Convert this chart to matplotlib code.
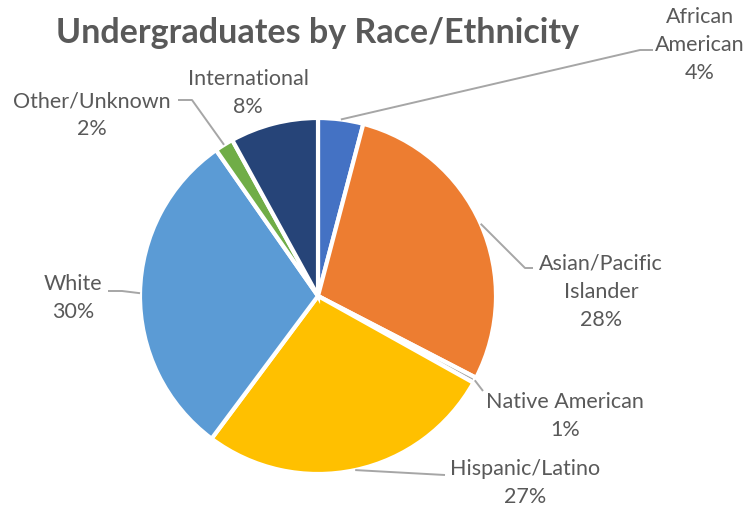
import numpy as np
import matplotlib.pyplot as plt

groups = ['African\nAmerican', 'Asian/Pacific\nIslander', 'Native American',
          'Hispanic/Latino', 'White', 'Other/Unknown', 'International']
shares = [4.1, 28.5, 0.5, 27.1, 30.1, 1.7, 8.0]
pct_labels = ['4%', '28%', '1%', '27%', '30%', '2%', '8%']
colors = ['#4472C4', '#ED7D31', '#A5A5A5', '#FFC000', '#5B9BD5', '#70AD47', '#264478']

# layout in pixel coords (y up), figure is 750x511
cx, cy, r = 318, 215, 178
label_pos = [(700, 466), (601, 219), (565, 95), (525, 28), (73, 213), (92, 396), (248, 418)]
leader_pts = [[(640, 461), (653, 461)], [(525, 243), (533, 243)], [(483, 120)],
              [(445, 36)], [(122, 220), (108, 220)], [(192, 411), (178, 411)], None]
text_col = '#595959'
font = ['Lato', 'DejaVu Sans']

fig = plt.figure(figsize=(7.5, 5.11), dpi=100)
ax = fig.add_axes([0, 0, 1, 1])
wedges, _ = ax.pie(shares, colors=colors, startangle=90, counterclock=False,
                   center=(cx, cy), radius=r,
                   wedgeprops=dict(edgecolor='white', linewidth=3))
ax.set_xlim(0, 750)
ax.set_ylim(0, 511)
ax.set_aspect('equal')
ax.axis('off')

for w, name, pct, pos, pts in zip(wedges, groups, pct_labels, label_pos, leader_pts):
    ang = np.deg2rad((w.theta1 + w.theta2) / 2)
    if pts is not None:
        x0 = cx + r * np.cos(ang)
        y0 = cy + r * np.sin(ang)
        xs = [x0] + [p[0] for p in pts]
        ys = [y0] + [p[1] for p in pts]
        ax.plot(xs, ys, color='#A6A6A6', lw=1.4, solid_capstyle='butt')
    ax.text(pos[0], pos[1], name + '\n' + pct, ha='center', va='center',
            fontsize=15.5, color=text_col, family=font, linespacing=1.5)

ax.text(318, 478, 'Undergraduates by Race/Ethnicity', ha='center', va='center',
        fontsize=24.5, fontweight='bold', color=text_col, family=font)

fig.savefig('out.png', dpi=100)
